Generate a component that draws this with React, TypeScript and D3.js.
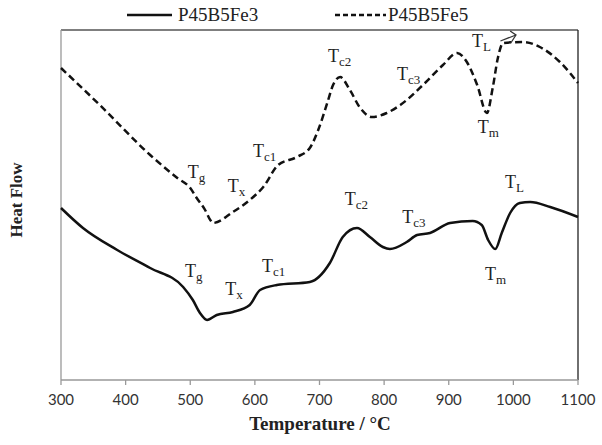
import React from "react";
import * as d3 from "d3";

const xTicks = [300, 400, 500, 600, 700, 800, 900, 1000, 1100];

// P45B5Fe3 (solid) temperature (°C) and heat flow (a.u.)
const fe3Temp = [300, 334, 387, 438, 489, 504, 515, 526, 541, 566, 592, 608, 634, 685, 716, 736, 758, 778, 798, 809, 835, 851, 871, 902, 937, 951, 961, 972, 982, 995, 1010, 1026, 1057, 1100];
const fe3Flow = [17.2, 15.2, 13.0, 11.2, 9.3, 8.0, 6.7, 6.0, 6.5, 6.8, 7.5, 9.0, 9.5, 9.8, 11.7, 14.3, 15.2, 14.3, 13.3, 13.1, 13.8, 14.5, 14.7, 15.7, 15.9, 15.5, 14.0, 13.1, 14.7, 16.7, 17.7, 17.8, 17.3, 16.3];

// P45B5Fe5 (dashed)
const fe5Temp = [300, 360, 438, 480, 500, 510, 523, 531, 535, 566, 592, 613, 636, 665, 685, 698, 712, 721, 732, 747, 763, 781, 804, 825, 835, 860, 891, 913, 928, 944, 959, 968, 976, 984, 1015, 1041, 1072, 1100];
const fe5Flow = [31.2, 27.5, 22.5, 20.2, 19.2, 18.2, 17.0, 16.0, 15.7, 16.8, 18.0, 19.3, 21.5, 22.3, 23.2, 25.0, 27.7, 29.5, 30.3, 29.0, 27.2, 26.3, 26.7, 27.5, 28.0, 29.5, 31.5, 32.7, 31.8, 29.5, 26.7, 29.2, 32.2, 33.7, 33.8, 33.3, 31.8, 29.7];

const seriesNames = ["P45B5Fe3", "P45B5Fe5"];

// annotations: [main, sub, temperature, flow]
const fe3Labels: [string, string, number, number][] = [
  ["T", "g", 492, 10.3],
  ["T", "x", 554, 8.5],
  ["T", "c1", 611, 10.8],
  ["T", "c2", 739, 17.5],
  ["T", "c3", 828, 15.7],
  ["T", "L", 987, 19.2],
  ["T", "m", 956, 10.0],
];
const fe5Labels: [string, string, number, number][] = [
  ["T", "g", 496, 20.2],
  ["T", "x", 558, 18.8],
  ["T", "c1", 597, 22.3],
  ["T", "c2", 713, 31.8],
  ["T", "c3", 820, 30.0],
  ["T", "L", 936, 33.3],
  ["T", "m", 945, 24.7],
];

const W = 602;
const H = 445;
const L = 61, R = 578, T = 30, B = 380;

export default function App() {
  const x = d3.scaleLinear().domain([300, 1100]).range([L, R]);
  const y = d3.scaleLinear().domain([0, 35]).range([B, T]);
  const line = d3
    .line<[number, number]>()
    .x((d) => x(d[0]))
    .y((d) => y(d[1]))
    .curve(d3.curveMonotoneX);
  const fe3 = fe3Temp.map((t, i) => [t, fe3Flow[i]] as [number, number]);
  const fe5 = fe5Temp.map((t, i) => [t, fe5Flow[i]] as [number, number]);
  const serif = "'Liberation Serif', 'Times New Roman', serif";

  const label = (l: [string, string, number, number], i: number, key: string) => (
    <text key={key + i} x={x(l[2])} y={y(l[3])} fontFamily={serif} fontSize={18} fill="#222">
      {l[0]}
      <tspan fontSize={13} dy={4}>{l[1]}</tspan>
    </text>
  );

  return (
    <svg width={W} height={H} style={{ position: "absolute", left: 0, top: 0 }}>
      <rect x={0} y={0} width={W} height={H} fill="#fff" />
      {/* legend */}
      <line x1={127} x2={172} y1={15} y2={15} stroke="#111" strokeWidth={2.5} />
      <text x={178} y={21} fontFamily={serif} fontSize={19} fill="#222">{seriesNames[0]}</text>
      <line x1={335} x2={386} y1={15} y2={15} stroke="#111" strokeWidth={2.5} strokeDasharray="5,3" />
      <text x={388} y={21} fontFamily={serif} fontSize={19} fill="#222">{seriesNames[1]}</text>

      {/* frame */}
      <line x1={L} x2={R} y1={T} y2={T} stroke="#555" strokeWidth={1.3} />
      <line x1={R} x2={R} y1={T} y2={B} stroke="#222" strokeWidth={1.3} />
      <line x1={L} x2={L} y1={T} y2={B} stroke="#999" strokeWidth={1.3} />
      <line x1={L} x2={R} y1={B} y2={B} stroke="#999" strokeWidth={1.3} />
      {xTicks.map((t) => (
        <g key={t}>
          <line x1={x(t)} x2={x(t)} y1={B} y2={B + 5} stroke="#999" strokeWidth={1.3} />
          <text x={x(t)} y={405} textAnchor="middle" fontFamily="Lato, sans-serif" fontSize={15} fill="#333">
            {t}
          </text>
        </g>
      ))}

      {/* curves */}
      <path d={line(fe3) || ""} fill="none" stroke="#111" strokeWidth={2.5} />
      <path d={line(fe5) || ""} fill="none" stroke="#111" strokeWidth={2.5} strokeDasharray="7,4" />

      {fe3Labels.map((l, i) => label(l, i, "a"))}
      {fe5Labels.map((l, i) => label(l, i, "b"))}

      {/* T_L arrow for dashed */}
      <g stroke="#333" strokeWidth={1.3} fill="none">
        <line x1={x(980)} y1={y(33.9)} x2={x(1004)} y2={y(34.5)} />
        <polyline points={`${x(995)},${y(34.9)} ${x(1004)},${y(34.5)} ${x(996)},${y(33.7)}`} />
      </g>

      {/* axis titles */}
      <text x={320} y={430} textAnchor="middle" fontFamily={serif} fontWeight="bold" fontSize={19} fill="#222">
        Temperature  / °C
      </text>
      <text
        transform="translate(22,200) rotate(-90)"
        textAnchor="middle"
        fontFamily={serif}
        fontWeight="bold"
        fontSize={17}
        fill="#222"
      >
        Heat Flow
      </text>
    </svg>
  );
}
